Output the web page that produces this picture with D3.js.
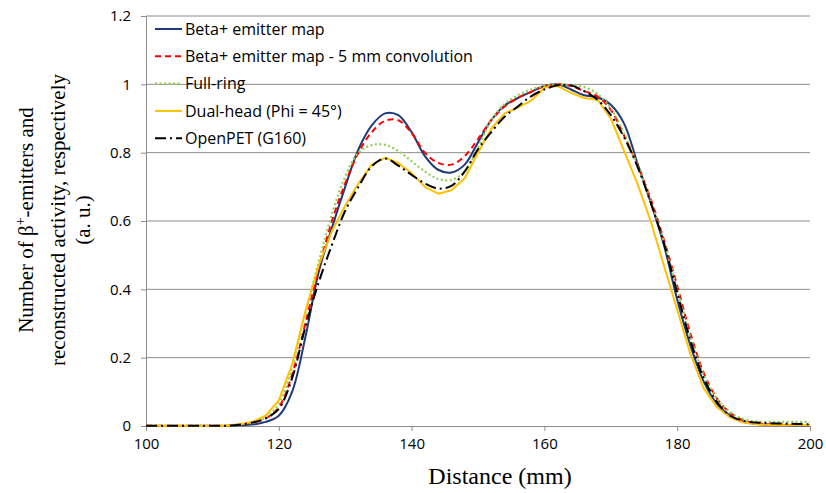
<!DOCTYPE html>
<html>
<head>
<meta charset="utf-8">
<script src="https://d3js.org/d3.v7.min.js"></script>
<style>
    body { margin: 0; background: #fff; }
    text { font-family: "Open Sans", "Liberation Sans", sans-serif; }
    .tick text { font-size: 15px; fill: #000; }
    .axis-title { font-family: "Liberation Serif", "DejaVu Serif", serif; font-size: 21px; fill: #000; }
    .legend text { font-size: 16px; fill: #000; }
</style>
</head>
<body>
<div id="chart"></div>
<script>
    // distance (mm)
    const distance = d3.range(100, 201, 2);

    const betaMap = [0,0,0,0,0,0,0,0.002,0.004,0.012,0.03,0.1,0.26,0.45,0.58,0.70,0.81,0.88,0.915,0.91,
        0.86,0.79,0.75,0.742,0.765,0.83,0.895,0.938,0.96,0.978,0.995,1.0,0.985,0.968,0.962,0.94,0.885,0.77,0.655,0.53,
        0.37,0.235,0.13,0.065,0.03,0.012,0.006,0.003,0.002,0.001,0.001];
    const betaConv = [0.001,0.001,0.001,0.001,0.001,0.001,0.001,0.004,0.01,0.022,0.055,0.15,0.3,0.46,0.6,0.71,0.8,0.86,0.893,0.895,
        0.858,0.8,0.77,0.765,0.79,0.84,0.895,0.935,0.96,0.978,0.995,1.0,0.995,0.98,0.965,0.925,0.85,0.765,0.665,0.545,
        0.41,0.27,0.155,0.08,0.038,0.016,0.008,0.005,0.004,0.003,0.003];
    const fullRing = [0.001,0.001,0.001,0.001,0.001,0.001,0.001,0.004,0.01,0.025,0.065,0.17,0.33,0.48,0.62,0.73,0.8,0.822,0.823,0.805,
        0.775,0.745,0.723,0.72,0.745,0.815,0.895,0.942,0.968,0.985,0.995,1.0,0.998,0.992,0.972,0.93,0.855,0.765,0.66,0.54,
        0.4,0.26,0.15,0.08,0.04,0.02,0.013,0.012,0.012,0.012,0.012];
    const dualHead = [0.001,0.001,0.001,0.001,0.001,0.001,0.001,0.005,0.012,0.03,0.075,0.18,0.335,0.47,0.57,0.645,0.71,0.765,0.785,0.77,
        0.74,0.7,0.68,0.69,0.725,0.8,0.87,0.915,0.932,0.952,0.99,0.995,0.975,0.96,0.955,0.9,0.805,0.71,0.6,0.47,
        0.34,0.21,0.11,0.055,0.025,0.01,0.005,0.003,0.002,0.002,0.002];
    const openPET = [0.001,0.001,0.001,0.001,0.001,0.001,0.001,0.004,0.01,0.022,0.05,0.14,0.29,0.42,0.53,0.63,0.7,0.76,0.783,0.762,
        0.735,0.71,0.695,0.703,0.745,0.81,0.86,0.905,0.935,0.965,0.985,0.997,0.997,0.98,0.955,0.91,0.845,0.76,0.655,0.535,
        0.39,0.25,0.14,0.07,0.03,0.015,0.01,0.008,0.007,0.006,0.005];

    const xTicks = [100, 120, 140, 160, 180, 200];
    const yTicks = [0, 0.2, 0.4, 0.6, 0.8, 1, 1.2];

    const series = [
        {name: "Beta+ emitter map", values: betaMap, color: "#1F3A7A", dash: null, width: 2, curve: d3.curveCatmullRom},
        {name: "Beta+ emitter map - 5 mm convolution", values: betaConv, color: "#FF0000", dash: "6,4", width: 2, curve: d3.curveCatmullRom},
        {name: "Full-ring", values: fullRing, color: "#92D050", dash: "2,2.5", width: 2.2, curve: d3.curveCatmullRom},
        {name: "Dual-head (Phi = 45°)", values: dualHead, color: "#FFC000", dash: null, width: 2, curve: d3.curveLinear},
        {name: "OpenPET (G160)", values: openPET, color: "#000000", dash: "11,4,2,4", width: 2, curve: d3.curveCatmullRom}
    ];

    const W = 826, H = 493;
    const margin = {top: 16, right: 16, bottom: 67, left: 146};
    const width = W - margin.left - margin.right,
          height = H - margin.top - margin.bottom;

    const svg = d3.select("#chart").append("svg")
        .attr("width", W)
        .attr("height", H);

    const g = svg.append("g")
        .attr("transform", `translate(${margin.left},${margin.top})`);

    const x = d3.scaleLinear().domain([100, 200]).range([0, width]);
    const y = d3.scaleLinear().domain([0, 1.2]).range([height, 0]);

    // gridlines
    g.append("g")
        .selectAll("line")
        .data(yTicks.filter(d => d > 0))
        .join("line")
        .attr("x1", 0).attr("x2", width)
        .attr("y1", d => y(d)).attr("y2", d => y(d))
        .attr("stroke", "#8c8c8c")
        .attr("stroke-width", 1);

    // X axis
    const xAxis = g.append("g")
        .attr("transform", `translate(0,${height})`)
        .call(d3.axisBottom(x).tickValues(xTicks).tickFormat(d3.format("d")).tickSize(5).tickPadding(7));
    xAxis.select(".domain").attr("stroke", "#8c8c8c");
    xAxis.selectAll(".tick line").attr("stroke", "#8c8c8c");

    // Y axis
    const yAxis = g.append("g")
        .call(d3.axisLeft(y).tickValues(yTicks).tickFormat(d => d3.format("")(+d.toFixed(1))).tickSize(5).tickPadding(10));
    yAxis.select(".domain").attr("stroke", "#8c8c8c");
    yAxis.selectAll(".tick line").attr("stroke", "#8c8c8c");

    // lines
    series.forEach(s => {
        const line = d3.line()
            .x((d, i) => x(distance[i]))
            .y(d => y(d))
            .curve(s.curve);
        g.append("path")
            .datum(s.values)
            .attr("fill", "none")
            .attr("stroke", s.color)
            .attr("stroke-width", s.width)
            .attr("stroke-dasharray", s.dash)
            .attr("stroke-linejoin", "round")
            .attr("d", line);
    });

    // legend
    const legend = g.append("g").attr("class", "legend")
        .attr("transform", "translate(9,13)");
    series.forEach((s, i) => {
        const row = legend.append("g").attr("transform", `translate(0,${i * 27.3})`);
        row.append("line")
            .attr("x1", 0).attr("x2", 27)
            .attr("stroke", s.color)
            .attr("stroke-width", s.width)
            .attr("stroke-dasharray", s.dash);
        row.append("text")
            .attr("x", 30)
            .attr("dy", "0.35em")
            .text(s.name);
    });

    // axis titles
    svg.append("text")
        .attr("class", "axis-title")
        .attr("x", 500)
        .attr("y", 484)
        .style("font-size", "24px")
        .attr("text-anchor", "middle")
        .text("Distance (mm)");

    const yTitle = svg.append("text")
        .attr("class", "axis-title")
        .attr("text-anchor", "middle")
        .attr("transform", "translate(0,220) rotate(-90)");
    const t1 = yTitle.append("tspan").attr("x", 0).attr("y", 33);
    t1.append("tspan").text("Number of β");
    t1.append("tspan").attr("dy", -8).attr("font-size", "14px").text("+");
    t1.append("tspan").attr("dy", 8).text("-emitters and");
    yTitle.append("tspan").attr("x", 0).attr("y", 65).text("reconstructed activity, respectively");
    yTitle.append("tspan").attr("x", 0).attr("y", 90).text("(a. u.)");
</script>
</body>
</html>
